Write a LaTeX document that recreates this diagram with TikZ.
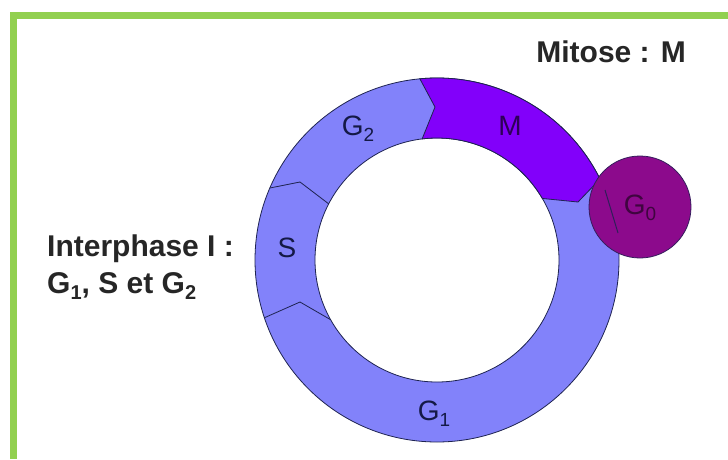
\documentclass[tikz,border=0pt]{standalone}
\usepackage{fontspec}
\setmainfont{Liberation Sans}
\usetikzlibrary{calc}
\definecolor{framegreen}{RGB}{146,208,80}
\definecolor{phaseblue}{RGB}{130,130,250}
\definecolor{mitviolet}{RGB}{130,0,250}
\definecolor{gzero}{RGB}{140,10,140}
\definecolor{edge}{RGB}{30,35,80}
\definecolor{labink}{RGB}{20,25,70}
\newcommand{\lowidx}[2][19]{\raisebox{-0.22em}{\fontsize{#1}{#1}\selectfont #2}}
\tikzset{
  phase/.style={fill=phaseblue, draw=edge, line width=0.8pt},
  ringlabel/.style={text=labink, font=\fontsize{28}{32}\selectfont, inner sep=0pt},
  sidetext/.style={font=\bfseries\fontsize{30}{36}\selectfont, text=black!85, inner sep=0pt},
  divider/.style={draw=edge, line width=0.8pt, line join=miter}
}
\begin{document}
\begin{tikzpicture}[x=1pt,y=1pt]
  \useasboundingbox (0,0) rectangle (728,459);
  % frame: green bars along the top and the left side
  \fill[framegreen] (10,440) rectangle (728,447);
  \fill[framegreen] (10,0) rectangle (17,447);

  \coordinate (c) at (437,199);
  % the ring (interphase)
  \path[phase, even odd rule] (c) circle[radius=182] (c) circle[radius=122];

  % mitosis segment
  \path[fill=mitviolet, draw=edge, line width=0.8pt, line join=miter]
    ($(c)+(95.4:182)$) arc[start angle=95.4, end angle=26.4, radius=182]
    -- (578,257) -- ($(c)+(30.3:122)$)
    arc[start angle=30.3, end angle=97, radius=122]
    -- (435,352) -- cycle;

  % chevron boundaries G1/S and S/G2
  \coordinate (gs-out) at ($(c)+(198.5:182)$);
  \coordinate (gs-tip) at (300,157);
  \coordinate (gs-in)  at ($(c)+(209.3:122)$);
  \draw[divider] (gs-out) -- (gs-tip) -- (gs-in);
  \coordinate (sg-out) at ($(c)+(156.7:182)$);
  \coordinate (sg-tip) at (300,277);
  \coordinate (sg-in)  at ($(c)+(152.6:122)$);
  \draw[divider] (sg-out) -- (sg-tip) -- (sg-in);

  % G0 circle
  \node[circle, minimum size=102pt, inner sep=0pt, fill=gzero, draw=edge!80!gzero, line width=0.8pt] (g0) at (640,252) {};
  \coordinate (g0a) at (605,269);
  \coordinate (g0b) at (618,226);
  \draw[draw=edge!85!gzero, line width=1pt] (g0a) -- (g0b);

  % phase labels
  \node[ringlabel] (lg2) at (358,330) {G\lowidx{2}};
  \node[ringlabel, text=mitviolet!35!black] (lm) at (510,333) {M};
  \node[ringlabel] (ls) at (287,211) {S};
  \node[ringlabel] (lg1) at (434,45) {G\lowidx{1}};
  \node[ringlabel, text=gzero!45!black] (lg0) at (640,251) {G\lowidx{0}};

  % side texts
  \node[sidetext, anchor=base west] (inter1) at (47,203) {Interphase I :};
  \node[sidetext, anchor=base west] (inter2) at (47,166) {G\lowidx[20]{1}, S et G\lowidx[20]{2}};
  \node[sidetext, anchor=base east] (mito) at (686,396) {Mitose : M};
\end{tikzpicture}
\end{document}
